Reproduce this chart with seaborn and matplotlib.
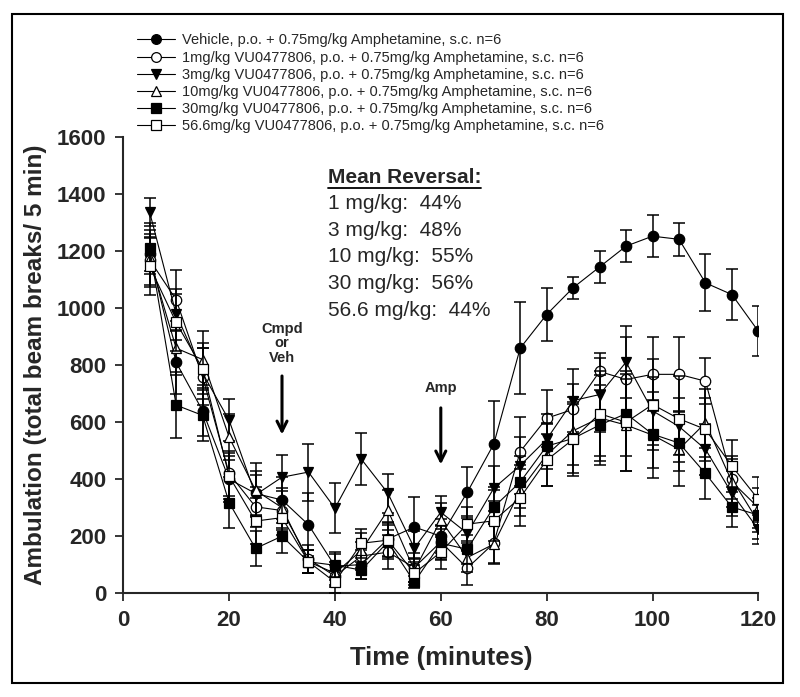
import numpy as np
import pandas as pd
import matplotlib
matplotlib.use("Agg")
import matplotlib.pyplot as plt
import seaborn as sns
from matplotlib.patches import Rectangle
from matplotlib.lines import Line2D

# time points (minutes)
time_min = [5, 10, 15, 20, 25, 30, 35, 40, 45, 50, 55, 60,
            65, 70, 75, 80, 85, 90, 95, 100, 105, 110, 115, 120]

# mean ambulation per group
vehicle = [1190, 810, 640, 400, 350, 327, 240, 95, 100, 190, 232, 200,
           354, 523, 860, 978, 1072, 1145, 1218, 1253, 1242, 1089, 1048, 919]
dose_1 = [1170, 1030, 760, 420, 303, 290, 120, 60, 130, 144, 90, 180,
          88, 175, 497, 614, 645, 778, 750, 768, 768, 744, 400, 250]
dose_3 = [1337, 979, 772, 607, 345, 407, 425, 298, 470, 351, 158, 284,
          210, 368, 448, 540, 676, 697, 811, 640, 585, 505, 350, 224]
dose_10 = [1175, 860, 820, 548, 361, 300, 110, 70, 150, 291, 80, 256,
           125, 172, 361, 485, 570, 615, 590, 555, 505, 598, 391, 300]
dose_30 = [1210, 660, 624, 318, 157, 200, 110, 98, 81, 180, 39, 175,
           154, 302, 390, 516, 543, 590, 630, 558, 527, 420, 302, 274]
dose_56 = [1147, 950, 788, 411, 253, 265, 110, 39, 175, 186, 70, 144,
           242, 254, 335, 467, 540, 630, 600, 662, 612, 575, 446, 329]

# SEM per group
vehicle_sem = [60, 110, 90, 80, 80, 80, 110, 50, 50, 60, 107, 60,
               90, 152, 162, 92, 38, 56, 57, 74, 58, 100, 90, 88]
dose_1_sem = [90, 105, 100, 80, 70, 70, 50, 40, 50, 60, 50, 60,
              60, 70, 120, 100, 90, 64, 150, 130, 130, 80, 70, 60]
dose_3_sem = [50, 90, 90, 74, 70, 77, 100, 88, 91, 68, 60, 58,
              60, 80, 100, 90, 110, 130, 126, 120, 100, 90, 80, 50]
dose_10_sem = [100, 95, 100, 80, 95, 70, 40, 40, 60, 70, 40, 60,
               50, 70, 90, 110, 120, 150, 160, 150, 130, 120, 90, 70]
dose_30_sem = [90, 115, 90, 90, 60, 60, 40, 40, 30, 60, 20, 60,
               50, 60, 90, 80, 120, 140, 150, 120, 100, 90, 70, 60]
dose_56_sem = [100, 100, 90, 80, 80, 60, 40, 40, 50, 60, 40, 60,
               60, 70, 100, 90, 130, 150, 170, 160, 150, 110, 90, 80]

labels = [
    "Vehicle, p.o. + 0.75mg/kg Amphetamine, s.c. n=6",
    "1mg/kg VU0477806, p.o. + 0.75mg/kg Amphetamine, s.c. n=6",
    "3mg/kg VU0477806, p.o. + 0.75mg/kg Amphetamine, s.c. n=6",
    "10mg/kg VU0477806, p.o. + 0.75mg/kg Amphetamine, s.c. n=6",
    "30mg/kg VU0477806, p.o. + 0.75mg/kg Amphetamine, s.c. n=6",
    "56.6mg/kg VU0477806, p.o. + 0.75mg/kg Amphetamine, s.c. n=6",
]
reversal_lines = ["1 mg/kg:  44%", "3 mg/kg:  48%", "10 mg/kg:  55%",
                  "30 mg/kg:  56%", "56.6 mg/kg:  44%"]

means = [vehicle, dose_1, dose_3, dose_10, dose_30, dose_56]
sems = [vehicle_sem, dose_1_sem, dose_3_sem, dose_10_sem, dose_30_sem, dose_56_sem]
markers = ["o", "o", "v", "^", "s", "s"]
faces = ["k", "w", "k", "w", "k", "w"]

df = pd.concat([
    pd.DataFrame({"time": time_min, "value": m, "sem": s, "group": lab})
    for m, s, lab in zip(means, sems, labels)
], ignore_index=True)

sns.set_style("ticks")
plt.rcParams["font.family"] = ["Liberation Sans", "DejaVu Sans"]

fig = plt.figure(figsize=(8, 6.97), dpi=100)
ax = fig.add_axes([0.154, 0.149, 0.794, 0.654])

handles = []
for i, lab in enumerate(labels):
    d = df[df["group"] == lab]
    ax.errorbar(d["time"], d["value"], yerr=d["sem"], fmt="none", ecolor="k",
                elinewidth=1.1, capsize=4.5, capthick=1.1, zorder=2 + i)
    sns.lineplot(data=d, x="time", y="value", ax=ax, color="k", lw=0.8,
                 marker=markers[i], markersize=7.5, markerfacecolor=faces[i],
                 markeredgecolor="k", markeredgewidth=0.9, zorder=3 + i,
                 legend=False)
    handles.append(Line2D([], [], color="k", lw=0.8, marker=markers[i],
                          markersize=7, markerfacecolor=faces[i],
                          markeredgecolor="k", markeredgewidth=0.9))

ax.set_xlim(0, 120)
ax.set_ylim(0, 1600)
ax.set_xticks(range(0, 121, 20))
ax.set_yticks(range(0, 1601, 200))
ax.spines["top"].set_visible(False)
ax.spines["right"].set_visible(False)
for sp in ["left", "bottom"]:
    ax.spines[sp].set_linewidth(1.5)
ax.tick_params(direction="out", length=6, width=1.3, labelsize=16, pad=6)
for t in ax.get_xticklabels() + ax.get_yticklabels():
    t.set_fontweight("bold")
ax.set_xlabel("Time (minutes)", fontsize=18.5, fontweight="bold", labelpad=11)
ax.set_ylabel("Ambulation (total beam breaks/ 5 min)", fontsize=17.5,
              fontweight="bold", labelpad=7)

fig.legend(handles, labels, loc="upper left", bbox_to_anchor=(0.171, 0.952),
           frameon=False, fontsize=10.5, handlelength=2.6, handletextpad=0.5,
           labelspacing=0.22, borderpad=0, borderaxespad=0)

# annotation block
title = ax.text(38.6, 1460, "Mean Reversal:", fontsize=15, fontweight="bold",
                va="center", ha="left")
for k, line in enumerate(reversal_lines):
    ax.text(38.6, 1368 - k * 94, line, fontsize=15, va="center", ha="left")

ax.text(30, 877, "Cmpd\nor\nVeh", fontsize=10.5, fontweight="bold", ha="center",
        va="center", linespacing=1.05)
ax.annotate("", xy=(30, 547), xytext=(30, 772),
            arrowprops=dict(arrowstyle="->", lw=2.2, color="k",
                            mutation_scale=18))
ax.text(60, 719, "Amp", fontsize=10.5, fontweight="bold", ha="center", va="center")
ax.annotate("", xy=(60, 442), xytext=(60, 660),
            arrowprops=dict(arrowstyle="->", lw=2.2, color="k",
                            mutation_scale=18))

# outer frame
fig.patches.append(Rectangle((0.015, 0.02), 0.964, 0.96, transform=fig.transFigure,
                             fill=False, lw=1.5, edgecolor="k"))

# underline for the title
fig.canvas.draw()
bb = title.get_window_extent(fig.canvas.get_renderer())
W, H = fig.bbox.width, fig.bbox.height
fig.add_artist(Line2D([bb.x0 / W, bb.x1 / W], [(bb.y0 - 1) / H, (bb.y0 - 1) / H],
                      color="k", lw=1.3, transform=fig.transFigure))

fig.savefig("out.png", dpi=100)
